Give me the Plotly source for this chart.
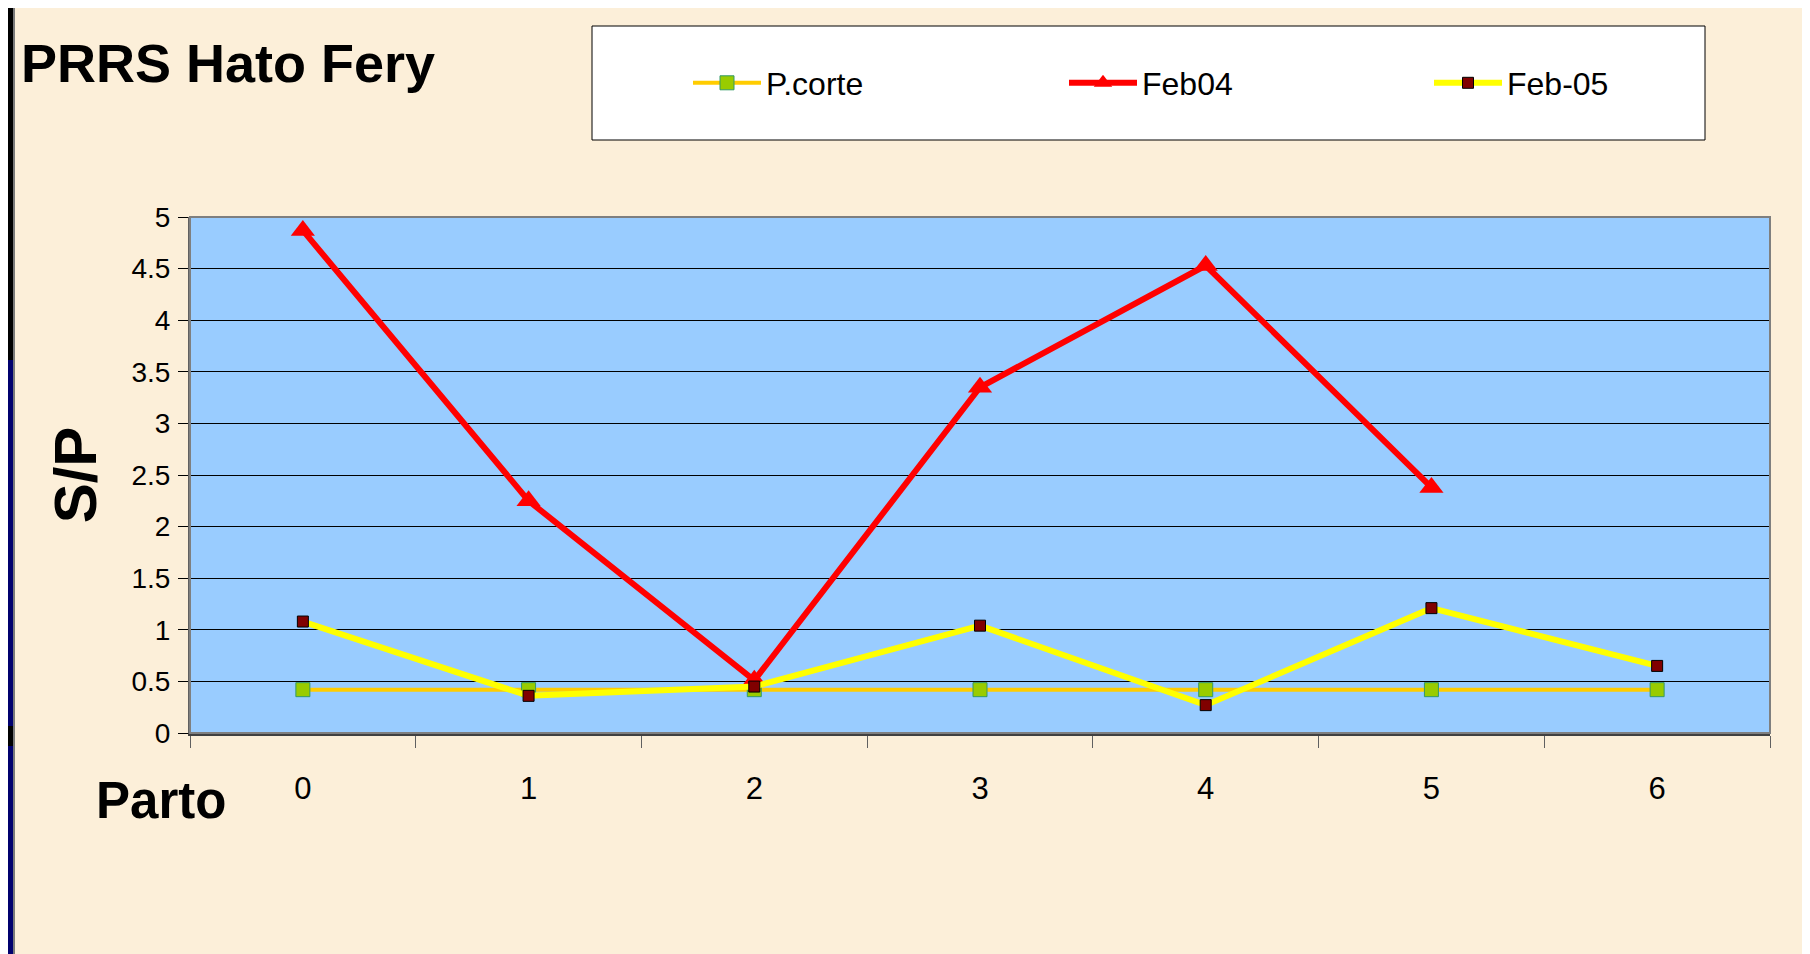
import plotly.graph_objects as go

# ---- data ----
partos = ["0", "1", "2", "3", "4", "5", "6"]
p_corte = [0.42, 0.42, 0.42, 0.42, 0.42, 0.42, 0.42]
feb04 = [4.87, 2.25, 0.51, 3.35, 4.53, 2.38, None]
feb05 = [1.08, 0.36, 0.45, 1.04, 0.27, 1.21, 0.65]
y_ticks = [0, 0.5, 1, 1.5, 2, 2.5, 3, 3.5, 4, 4.5, 5]

# page has an 8px body margin, so the figure is laid out 8px up/left
W, H = 1802, 946
L, R, T, B = 182, 1762, 209, 725   # plot area in figure pixels

def px(x):
    return (x - L) / (R - L)

def py(y):
    return (B - y) / (B - T)

FONT = "Liberation Sans, Arial, Helvetica, sans-serif"
NAVY = "#00006E"
CREAM = "#FCEFD9"

fig = go.Figure()
fig.add_trace(go.Scatter(
    x=partos, y=p_corte, name="P.corte", mode="lines+markers",
    line=dict(color="#FFCC00", width=4),
    marker=dict(symbol="square", size=14, color="#99CC00",
                line=dict(color="#339966", width=1)),
    legend="legend"))
fig.add_trace(go.Scatter(
    x=partos, y=feb04, name="Feb04", mode="lines+markers",
    line=dict(color="#FF0000", width=6),
    marker=dict(symbol="triangle-up", size=21, color="#FF0000"),
    legend="legend2"))
fig.add_trace(go.Scatter(
    x=partos, y=feb05, name="Feb-05", mode="lines+markers",
    line=dict(color="#FFFF00", width=6),
    marker=dict(symbol="square", size=11, color="#800000",
                line=dict(color="#000000", width=1)),
    legend="legend3"))

shapes = [
    # left navy strip
    dict(type="rect", xref="paper", yref="paper", x0=px(0), x1=px(5), y0=py(0), y1=py(H),
         fillcolor=NAVY, line=dict(width=0), layer="below"),
    # black decorative parts of the strip
    dict(type="rect", xref="paper", yref="paper", x0=px(0), x1=px(5), y0=py(0), y1=py(352),
         fillcolor="#000000", line=dict(width=0), layer="below"),
    dict(type="rect", xref="paper", yref="paper", x0=px(0), x1=px(5), y0=py(718), y1=py(738),
         fillcolor="#000000", line=dict(width=0), layer="below"),
    # thin gray edge line
    dict(type="line", xref="paper", yref="paper", x0=px(6), x1=px(6), y0=py(0), y1=py(H),
         line=dict(color="#7A7A7A", width=2), layer="below"),
    # legend box
    dict(type="rect", xref="paper", yref="paper", x0=px(584), x1=px(1697), y0=py(18), y1=py(132),
         fillcolor="#FFFFFF", line=dict(color="#000000", width=1), layer="below"),
    # plot area border
    dict(type="rect", xref="paper", yref="paper", x0=0, x1=1, y0=0, y1=1,
         fillcolor="rgba(0,0,0,0)", line=dict(color="#7F7F7F", width=2), layer="above"),
]

annotations = [
    dict(text="<b>Parto</b>", xref="paper", yref="paper", x=px(86), y=py(792),
         xanchor="left", yanchor="middle", showarrow=False,
         font=dict(family=FONT, size=51, color="#000000")),
]

legend_common = dict(bgcolor="rgba(0,0,0,0)", borderwidth=0, itemwidth=68,
                     font=dict(family=FONT, size=32, color="#000000"),
                     xanchor="left", yanchor="middle", orientation="h")

fig.update_layout(
    width=W, height=H,
    margin=dict(l=L, r=W - R, t=T, b=H - B, pad=0),
    paper_bgcolor=CREAM, plot_bgcolor="#99CCFF",
    title=dict(text="<b>PRRS Hato Fery</b>", xref="container", yref="container",
               x=13 / W, y=1 - 55 / H, xanchor="left", yanchor="middle",
               font=dict(family=FONT, size=54, color="#000000")),
    showlegend=True,
    legend=dict(x=px(680), y=py(75), **legend_common),
    legend2=dict(x=px(1056), y=py(75), **legend_common),
    legend3=dict(x=px(1421), y=py(75), **legend_common),
    shapes=shapes, annotations=annotations,
    xaxis=dict(type="category", categoryorder="array", categoryarray=partos,
               tickson="boundaries", ticks="outside", ticklen=12, tickwidth=1,
               tickcolor="#606060", showgrid=False, showline=True,
               linecolor="#404040", linewidth=3, ticklabelstandoff=26,
               tickfont=dict(family=FONT, size=31, color="#000000"),
               range=[-0.5, 6.5]),
    yaxis=dict(range=[0, 5], tickvals=y_ticks, ticks="outside", ticklen=10,
               tickwidth=1, tickcolor="#000000", showgrid=True, gridcolor="#000000",
               gridwidth=1, zeroline=False, showline=True, linecolor="#606060",
               linewidth=2, ticklabelstandoff=2,
               tickfont=dict(family=FONT, size=28, color="#000000"),
               title=dict(text="<b>S/P</b>", standoff=15,
                          font=dict(family=FONT, size=60, color="#000000"))),
)

fig.write_html("out.html")
